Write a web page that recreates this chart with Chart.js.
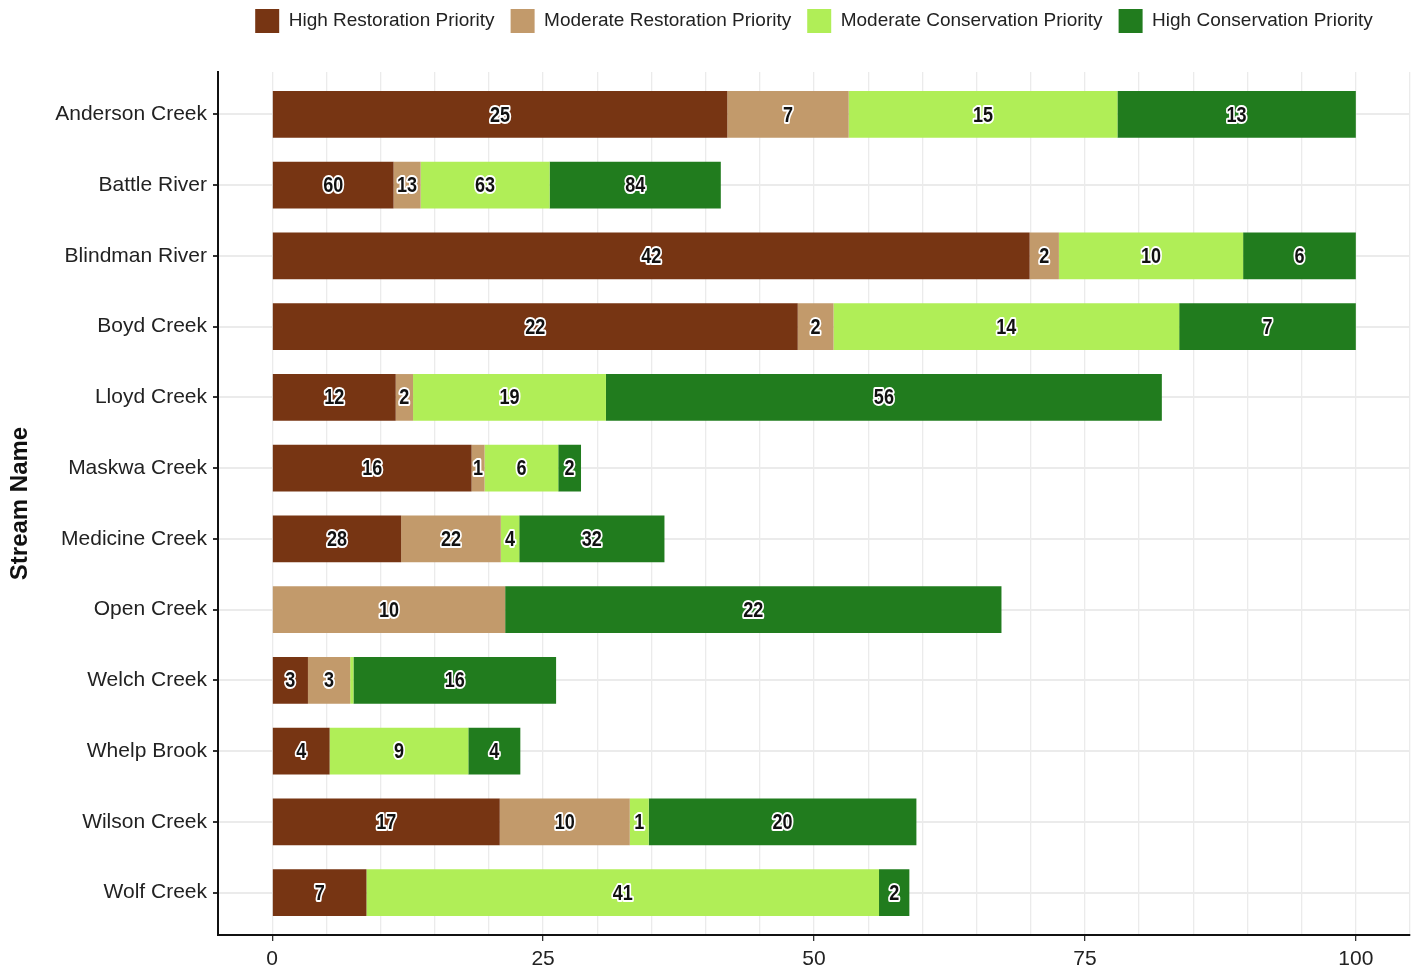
<!DOCTYPE html>
<html>
<head>
<meta charset="utf-8">
<script src="https://cdn.jsdelivr.net/npm/chart.js@4.4.0/dist/chart.umd.min.js"></script>
<style>
  body { margin: 0; background: #fff; }
  #wrap { width: 1424px; height: 973px; }
</style>
</head>
<body>
<div id="wrap"><canvas id="streamChart" width="1424" height="973"></canvas></div>
<script>
// stream names (top to bottom)
const streams = ['Anderson Creek', 'Battle River', 'Blindman River', 'Boyd Creek', 'Lloyd Creek', 'Maskwa Creek',
    'Medicine Creek', 'Open Creek', 'Welch Creek', 'Whelp Brook', 'Wilson Creek', 'Wolf Creek'];

const priorities = ['High Restoration Priority', 'Moderate Restoration Priority',
    'Moderate Conservation Priority', 'High Conservation Priority'];
const colors = ['#773513', '#c29a6b', '#b0ee57', '#217c1e'];

// bar lengths (x axis units)
const highRest = [42.0, 11.2, 69.9, 48.5, 11.4, 18.4, 11.9, 0, 3.3, 5.3, 21.0, 8.7];
const modRest  = [11.2, 2.5, 2.7, 3.3, 1.6, 1.2, 9.2, 21.5, 3.9, 0, 12.0, 0];
const modCons  = [24.8, 11.9, 17.0, 31.9, 17.8, 6.8, 1.7, 0, 0.3, 12.8, 1.75, 47.3];
const highCons = [22.0, 15.8, 10.4, 16.3, 51.3, 2.1, 13.4, 45.8, 18.7, 4.8, 24.7, 2.8];

// counts printed in the bars (null = no label)
const highRestN = [25, 60, 42, 22, 12, 16, 28, null, 3, 4, 17, 7];
const modRestN  = [7, 13, 2, 2, 2, 1, 22, 10, 3, null, 10, null];
const modConsN  = [15, 63, 10, 14, 19, 6, 4, null, null, 9, 1, 41];
const highConsN = [13, 84, 6, 7, 56, 2, 32, 22, 16, 4, 20, 2];

const xTicks = [0, 25, 50, 75, 100];

const values = [highRest, modRest, modCons, highCons];
const counts = [highRestN, modRestN, modConsN, highConsN];

const datasets = priorities.map((p, i) => ({
    label: p,
    data: values[i].map((v, j) => ({ x: v, y: j })),
    backgroundColor: colors[i],
    borderWidth: 0,
    categoryPercentage: 1,
    barPercentage: 0.66
}));

// draws the counts centred on each segment, black with a white halo
const barLabels = {
    id: 'barLabels',
    beforeInit(chart) {
        // give the legend a bit more room below it
        const fit = chart.legend.fit;
        chart.legend.fit = function () {
            fit.call(this);
            this.height += 29;
        };
    },
    afterDatasetsDraw(chart) {
        const ctx = chart.ctx;
        ctx.save();
        ctx.font = 'bold 22px "Liberation Sans", Arial, sans-serif';
        ctx.textAlign = 'center';
        ctx.textBaseline = 'middle';
        ctx.lineJoin = 'round';
        chart.data.datasets.forEach((ds, i) => {
            const meta = chart.getDatasetMeta(i);
            meta.data.forEach((bar, j) => {
                const lbl = counts[i][j];
                if (lbl == null) return;
                const c = bar.getCenterPoint();
                ctx.save();
                ctx.translate(c.x, c.y + 1);
                ctx.scale(0.82, 1); // narrow look of the original labels
                ctx.lineWidth = 4;
                ctx.strokeStyle = '#fff';
                ctx.strokeText(String(lbl), 0, 0);
                ctx.fillStyle = '#111';
                ctx.fillText(String(lbl), 0, 0);
                ctx.restore();
            });
        });
        ctx.restore();
    }
};

const font = { family: '"Liberation Sans", Arial, sans-serif', size: 21 };

new Chart(document.getElementById('streamChart'), {
    type: 'bar',
    data: { datasets: datasets },
    plugins: [barLabels],
    options: {
        indexAxis: 'y',
        responsive: false,
        animation: false,
        layout: { padding: { top: -7, right: 14, bottom: 0, left: 0 } },
        plugins: {
            legend: {
                position: 'top',
                fullSize: false,
                labels: {
                    boxWidth: 24,
                    boxHeight: 24,
                    padding: 16,
                    color: '#222',
                    font: { family: font.family, size: 19 }
                }
            },
            tooltip: { enabled: false }
        },
        scales: {
            x: {
                type: 'linear',
                stacked: true,
                min: -5,
                max: 105,
                afterFit: (s) => { s.height = 38; },
                border: { color: '#111', width: 2 },
                grid: {
                    color: '#ebebeb',
                    lineWidth: 1.3,
                    tickLength: 6,
                    tickColor: (c) => xTicks.includes(c.tick.value) ? '#333' : 'rgba(0,0,0,0)'
                },
                ticks: {
                    stepSize: 5,
                    autoSkip: false,
                    maxRotation: 0,
                    padding: 6,
                    color: '#222',
                    font: font,
                    callback: (v) => xTicks.includes(v) ? v : ''
                }
            },
            y: {
                type: 'linear',
                stacked: true,
                reverse: true,
                offset: false,
                min: -0.6,
                max: 11.6,
                afterFit: (s) => { s.width = 218; },
                border: { color: '#111', width: 2 },
                grid: {
                    offset: false,
                    color: '#ebebeb',
                    lineWidth: 2,
                    tickLength: 5,
                    tickColor: '#333'
                },
                ticks: {
                    stepSize: 1,
                    includeBounds: false,
                    autoSkip: false,
                    padding: 6,
                    color: '#222',
                    font: font,
                    callback: (v) => Number.isInteger(v) && streams[v] ? streams[v] : ''
                },
                title: {
                    display: true,
                    text: 'Stream Name',
                    color: '#111',
                    padding: { top: 6, bottom: 15 },
                    font: { family: font.family, size: 24, weight: 'bold' }
                }
            }
        }
    }
});
</script>
</body>
</html>
